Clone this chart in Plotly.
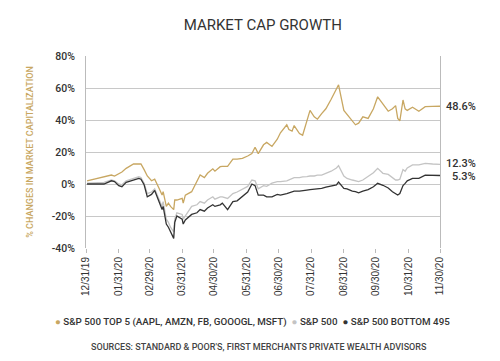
import plotly.graph_objects as go

dates = ["2020-01-01","2020-01-17","2020-01-24","2020-01-27","2020-01-31","2020-02-03","2020-02-07","2020-02-14",
         "2020-02-19","2020-02-21","2020-02-24","2020-02-27","2020-03-02","2020-03-05","2020-03-09","2020-03-12",
         "2020-03-13","2020-03-16","2020-03-18","2020-03-20","2020-03-23","2020-03-24","2020-03-26","2020-03-31",
         "2020-04-01","2020-04-03","2020-04-09","2020-04-14","2020-04-17","2020-04-21","2020-04-24","2020-04-29",
         "2020-05-01","2020-05-06","2020-05-08","2020-05-13","2020-05-18","2020-05-22","2020-05-27","2020-06-01",
         "2020-06-05","2020-06-08","2020-06-11","2020-06-16","2020-06-19","2020-06-24","2020-06-29","2020-07-02",
         "2020-07-08","2020-07-10","2020-07-13","2020-07-15","2020-07-20","2020-07-23","2020-07-27","2020-07-30",
         "2020-08-03","2020-08-06","2020-08-10","2020-08-14","2020-08-19","2020-08-24","2020-08-26","2020-08-31",
         "2020-09-03","2020-09-08","2020-09-11","2020-09-14","2020-09-18","2020-09-23","2020-09-28","2020-10-02",
         "2020-10-07","2020-10-12","2020-10-16","2020-10-19","2020-10-21","2020-10-23","2020-10-26","2020-10-28",
         "2020-10-30","2020-11-04","2020-11-10","2020-11-16","2020-11-23","2020-11-30"]

top5 = [2, 4.5, 5.6, 5, 6.7, 7.5, 9.8, 12.5,
        12.5, 12.5, 9, 5, 2, 3, -2.5, -6.9,
        -4.8, -14, -12, -14, -16, -10, -10, -9,
        -12, -7, -4.8, 2, 5.6, 4, 6.7, 9.5,
        8, 10.8, 11, 11, 15.5, 15.5, 16, 17.5,
        19, 23, 19, 24.5, 26, 23.5, 28, 32,
        37, 34, 33, 36.5, 31.5, 30.5, 40, 46,
        42, 40.5, 44, 47, 53, 59, 62, 46,
        43.5, 40, 37, 38, 42, 41, 47, 54.5,
        50, 45.5, 47, 49, 41, 39.5, 52.5, 47,
        46, 48, 45.5, 48.3, 48.5, 48.6]

sp500 = [0.5, 1, 2.5, 2, 0, -0.5, 2, 3.5,
         4.5, 4, 0.5, -6, -5, -3, -9.5, -14,
         -11, -22, -24, -27, -30, -22, -18, -19,
         -22, -20, -14, -13, -11, -12, -10, -8,
         -9.5, -8, -8, -9, -6, -5, -3, -1.5,
         2.5, 2, -3, -1, -1.5, 0.5, 1.5, 1.5,
         2, 2.5, 3, 4, 4, 4.5, 4.6, 5,
         5, 5.5, 5.5, 6.5, 8, 10, 11.5, 5,
         3.5, 2.5, 2, 1.5, 2.5, 5, 7, 9.8,
         6.7, 6, 4, 2.5, 2.5, 3, 9, 8,
         10, 11.9, 12, 12.9, 12.5, 12.3]

bottom495 = [0, 0, 2, 1.5, -1, -1.7, 1, 2.5,
             3.5, 3, -0.5, -8, -6.5, -4, -11, -16,
             -14, -25, -27, -30, -34, -24, -20, -22,
             -25, -22.5, -19, -18, -16, -17, -15, -13,
             -14, -13, -12, -16, -11, -10.5, -8, -5,
             0, -1, -7, -7, -8, -8, -6.5, -7,
             -6, -5.5, -5, -4.5, -4.5, -4, -3.8, -3.5,
             -3.3, -3, -2.7, -2, -1.5, -0.6, 1.2, -2.7,
             -3, -4.5, -4.8, -5.5, -4.5, -3.5, -1.7, 0.4,
             -0.8, -2.5, -4.8, -5.8, -6.9, -6, -1, 0.4,
             2, 3.5, 3.5, 5.5, 5.5, 5.3]

series_names = ["S&P 500 TOP 5 (AAPL, AMZN, FB, GOOOGL, MSFT)", "S&P 500", "S&P 500 BOTTOM 495"]
end_labels = ["48.6%", "12.3%", "5.3%"]
tick_dates = ["2019-12-31","2020-01-31","2020-02-29","2020-03-31","2020-04-30","2020-05-31",
              "2020-06-30","2020-07-31","2020-08-31","2020-09-30","2020-10-31","2020-11-30"]
tick_text = ["12/31/19","01/31/20","02/29/20","03/31/20","04/30/20","05/31/20",
             "06/30/20","07/31/20","08/31/20","09/30/20","10/31/20","11/30/20"]
y_ticks = [-40, -20, 0, 20, 40, 60, 80]

colors = ["#C8A762", "#C4C4C4", "#333333"]
FONT = "Roboto, Liberation Sans, sans-serif"

fig = go.Figure()
for vals, name, c in zip([top5, sp500, bottom495], series_names, colors):
    fig.add_trace(go.Scatter(x=dates, y=vals, mode="lines", name=name,
                             line=dict(color=c, width=1.3), showlegend=False))

# end labels
for lab, v, dy in zip(end_labels, [top5[-1], sp500[-1], bottom495[-1]], [0, 1, -1]):
    fig.add_annotation(x=1, xref="paper", y=v, yref="y", text=lab, showarrow=False,
                       xanchor="right", xshift=38, yshift=dy,
                       font=dict(family=FONT, size=11, color="#333333", weight=500))

# legend row
legend_text = "  ".join(
    f"<span style='color:{c}'>●</span> {n}" for n, c in zip(series_names, colors))
fig.add_annotation(x=0.469, xref="paper", y=-0.385, yref="paper", text=legend_text,
                   showarrow=False, xanchor="center", yanchor="middle",
                   font=dict(family=FONT, size=9.8, color="#333333", weight=500))

fig.add_annotation(x=0.49, xref="paper", y=-0.516, yref="paper",
                   text="SOURCES: STANDARD & POOR'S, FIRST MERCHANTS PRIVATE WEALTH ADVISORS",
                   showarrow=False, xanchor="center", yanchor="middle",
                   font=dict(family=FONT, size=9, color="#444444", weight=500))

fig.update_layout(
    width=492, height=353,
    margin=dict(l=78, r=60, t=48, b=113),
    paper_bgcolor="white", plot_bgcolor="white",
    font=dict(family=FONT, color="#333333"),
    title=dict(text="MARKET CAP GROWTH", x=0.518, xanchor="center", y=0.952, yanchor="middle",
               font=dict(family=FONT, size=15, color="#333333", weight=400)),
    showlegend=False,
    xaxis=dict(type="date", range=["2019-12-31", "2020-11-30"], tickvals=tick_dates, ticktext=tick_text,
               tickangle=-90, tickfont=dict(family="Liberation Sans, Arial, sans-serif", size=10, color="#333333"),
               showgrid=False, showline=False, zeroline=False, ticks="outside", ticklen=4,
               tickcolor="#bbbbbb", automargin=False),
    yaxis=dict(range=[-40, 80], tickvals=y_ticks, ticktext=[f"{v}%" for v in y_ticks],
               tickfont=dict(family=FONT, size=10.5, color="#333333", weight=500),
               showgrid=True, gridcolor="#c8c8c8", gridwidth=1, zeroline=False,
               showline=True, linecolor="#bbbbbb", mirror=True, ticks="", ticklabelstandoff=8,
               automargin=False,
               title=dict(text="% CHANGES IN MARKET CAPITALIZATION", standoff=16,
                          font=dict(family=FONT, size=9, color="#C8A762", weight=500))),
)

fig.write_html("out.html")
